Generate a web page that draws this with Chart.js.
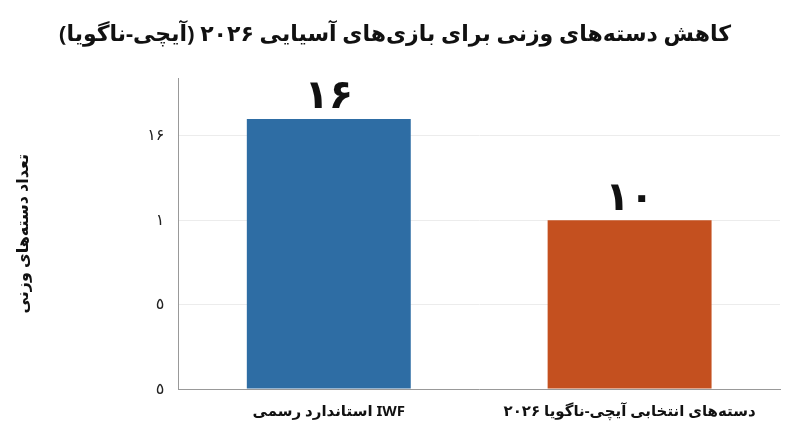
<!DOCTYPE html>
<html><head><meta charset="utf-8">
<script src="https://cdn.jsdelivr.net/npm/chart.js@4"></script>
<style>body{margin:0;background:#fff}#wrap{width:800px;height:447px}</style>
</head><body><div id="wrap"><canvas id="c"></canvas></div>
<script>
const categories = ['استاندارد رسمی IWF', 'دسته‌های انتخابی آیچی-ناگویا ۲۰۲۶']
const values = [16, 10]
const valueLabels = ['۱۶', '۱۰']
const tickLabels = {0: '٥', 5: '٥', 10: '۱', 15: '۱۶'}
const colors = ['#2e6da4', '#c4501f']
const font = "'Noto Sans', 'DejaVu Sans', sans-serif"

// etiquetas encima de las barras
const barLabels = {
    id: 'barLabels',
    afterDatasetsDraw(chart) {
        const ctx = chart.ctx
        chart.getDatasetMeta(0).data.forEach((bar, i) => {
            ctx.save()
            ctx.font = `bold 40px ${font}`
            ctx.fillStyle = '#111'
            ctx.textAlign = 'center'
            ctx.textBaseline = 'bottom'
            ctx.fillText(valueLabels[i], bar.x, bar.y - 2)
            ctx.restore()
        })
    }
}

new Chart(document.querySelector('#c'), {
    type: 'bar',
    data: {
        labels: categories,
        datasets: [{ data: values, backgroundColor: colors, barPercentage: 0.545, categoryPercentage: 1 }]
    },
    options: {
        responsive: true,
        maintainAspectRatio: false,
        animation: false,
        layout: { padding: { top: 6, right: 20, left: 10, bottom: 20 } },
        scales: {
            x: {
                grid: { display: false },
                border: { color: '#999' },
                ticks: { padding: 6, color: '#111', font: { family: font, size: 15, weight: 'bold' } }
            },
            y: {
                min: 0,
                max: 18.4,
                afterBuildTicks(axis) { axis.ticks = [0, 5, 10, 15].map(v => ({ value: v })) },
                grid: { color: '#ececec', drawTicks: false },
                border: { color: '#999' },
                ticks: { padding: 14, color: '#222', font: { family: font, size: 16 }, callback: v => tickLabels[v] },
                title: { display: true, text: 'تعداد دسته‌های وزنی', color: '#111', padding: { bottom: 100 }, font: { family: font, size: 16, weight: 'bold' } }
            }
        },
        plugins: {
            legend: { display: false },
            tooltip: { enabled: false },
            title: {
                display: true,
                text: 'کاهش دسته‌های وزنی برای بازی‌های آسیایی ۲۰۲۶ (آیچی-ناگویا)',
                color: '#111',
                padding: { top: 16, bottom: 30 },
                font: { family: font, size: 22, weight: 'bold' }
            }
        }
    },
    plugins: [barLabels]
})
</script></body></html>
